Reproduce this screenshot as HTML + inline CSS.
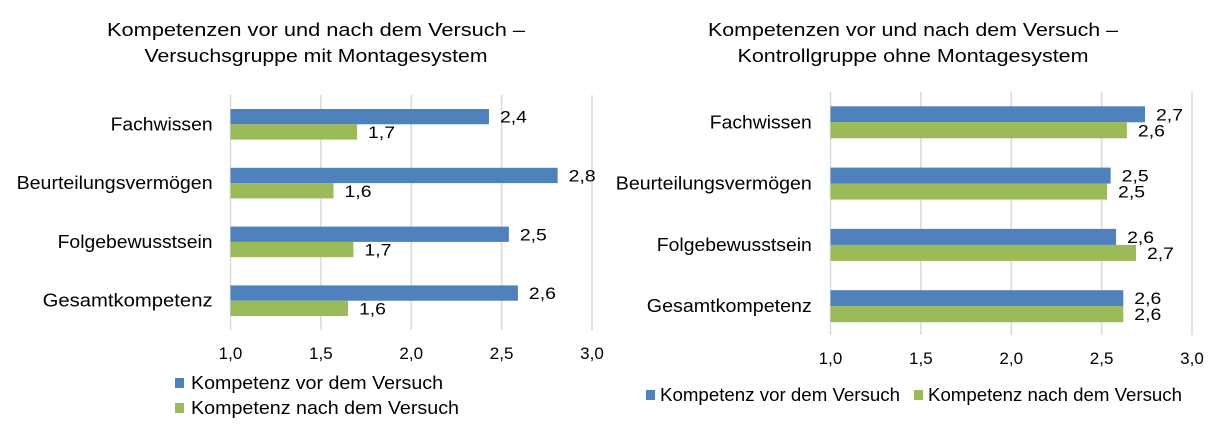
<!DOCTYPE html>
<html><head><meta charset="utf-8">
<style>
html,body{margin:0;padding:0;background:#fff;}
svg{display:block;font-family:"Liberation Sans",Arial,sans-serif;}
</style></head>
<body>
<svg id="c" width="1227" height="445" viewBox="0 0 1227 445">
<g font-size="18" fill="#000" text-anchor="middle">
<text x="316" y="36" textLength="418" lengthAdjust="spacingAndGlyphs">Kompetenzen vor und nach dem Versuch –</text>
<text x="316" y="62" textLength="343" lengthAdjust="spacingAndGlyphs">Versuchsgruppe mit Montagesystem</text>
</g>
<g font-size="18" fill="#000" text-anchor="middle">
<text x="913" y="36" textLength="410" lengthAdjust="spacingAndGlyphs">Kompetenzen vor und nach dem Versuch –</text>
<text x="913" y="62" textLength="351" lengthAdjust="spacingAndGlyphs">Kontrollgruppe ohne Montagesystem</text>
</g>
</svg>
<script>
const categories = ["Fachwissen","Beurteilungsvermögen","Folgebewusstsein","Gesamtkompetenz"];
const leftBefore = [2.43, 2.81, 2.54, 2.59];
const leftAfter = [1.70, 1.57, 1.68, 1.65];
const leftBeforeLabels = ["2,4","2,8","2,5","2,6"];
const leftAfterLabels = ["1,7","1,6","1,7","1,6"];
const rightBefore = [2.74, 2.55, 2.58, 2.62];
const rightAfter = [2.64, 2.53, 2.69, 2.62];
const rightBeforeLabels = ["2,7","2,5","2,6","2,6"];
const rightAfterLabels = ["2,6","2,5","2,7","2,6"];
const ticks = [1.0, 1.5, 2.0, 2.5, 3.0];
const tickLabels = ["1,0","1,5","2,0","2,5","3,0"];
const seriesNames = ["Kompetenz vor dem Versuch","Kompetenz nach dem Versuch"];

const NS = "http://www.w3.org/2000/svg";
const svg = document.getElementById("c");
const BLUE = "#4f81bd", GREEN = "#9bbb59";
function mk(tag, attrs, parent){
  const e = document.createElementNS(NS, tag);
  for (const k in attrs) e.setAttribute(k, attrs[k]);
  parent.appendChild(e); return e;
}
function drawChart(p, before, after, bl, al, prefix){
  const g = mk("g", {}, svg);
  
  
  const x = v => p.x0 + (v - 1.0) / 2.0 * (p.x1 - p.x0);
  const yc = i => p.c0 + i * p.step;
  ticks.forEach((t, i) => {
    const l = mk("line", {x1:x(t), x2:x(t), y1:p.top, y2:p.bottom, stroke:"#d9d9d9", "stroke-width":1.5}, g);
    
    
    const tx = mk("text", {x:x(t), y:p.tickY, "font-size":17, "text-anchor":"middle", fill:"#000"}, g);
    
    
    tx.textContent = tickLabels[i];
  });
  categories.forEach((c, i) => {
    const cy = yc(i);
    const ct = mk("text", {x:p.labelX, y:cy + 6, "font-size":18, "text-anchor":"end", fill:"#000", textLength:p.labelW[i], lengthAdjust:"spacingAndGlyphs"}, g);
    
    
    ct.textContent = c;
    const b1 = mk("rect", {x:x(1), y:cy - p.bh, width:x(before[i]) - x(1), height:p.bh, fill:BLUE}, g);
    
    
    const b2 = mk("rect", {x:x(1), y:cy, width:x(after[i]) - x(1), height:p.bh, fill:GREEN}, g);
    
    
    const v1 = mk("text", {x:x(before[i]) + 11, y:cy - p.bh/2 + 6, "font-size":17, fill:"#000", textLength:27, lengthAdjust:"spacingAndGlyphs"}, g);
    
    
    v1.textContent = bl[i];
    const v2 = mk("text", {x:x(after[i]) + 11, y:cy + p.bh/2 + 6, "font-size":17, fill:"#000", textLength:27, lengthAdjust:"spacingAndGlyphs"}, g);
    
    
    v2.textContent = al[i];
  });
  p.legend.forEach((L, i) => {
    const lg = mk("g", {}, g);
    
    
    mk("rect", {x:L.sx, y:L.y - 5, width:9, height:10, fill:i === 0 ? BLUE : GREEN}, lg);
    const t = mk("text", {x:L.tx, y:L.y + 6, "font-size":18, fill:"#000", textLength:L.w, lengthAdjust:"spacingAndGlyphs"}, lg);
    t.textContent = seriesNames[i];
  });
}
drawChart({x0:230.5, x1:592, top:95, bottom:330, c0:124.3, step:58.8, bh:15.3, tickY:359, labelX:212.6,
  labelW:[102, 196, 155, 170],
  legend:[{sx:175, tx:191, y:383, w:252},{sx:175, tx:191, y:408, w:268}]},
  leftBefore, leftAfter, leftBeforeLabels, leftAfterLabels, "left");
drawChart({x0:830.5, x1:1192, top:92, bottom:335, c0:122.3, step:61.3, bh:16, tickY:364, labelX:811.8,
  labelW:[102, 196, 155, 165],
  legend:[{sx:646, tx:660, y:395, w:240},{sx:914, tx:928, y:395, w:254}]},
  rightBefore, rightAfter, rightBeforeLabels, rightAfterLabels, "right");
</script>
</body></html>
